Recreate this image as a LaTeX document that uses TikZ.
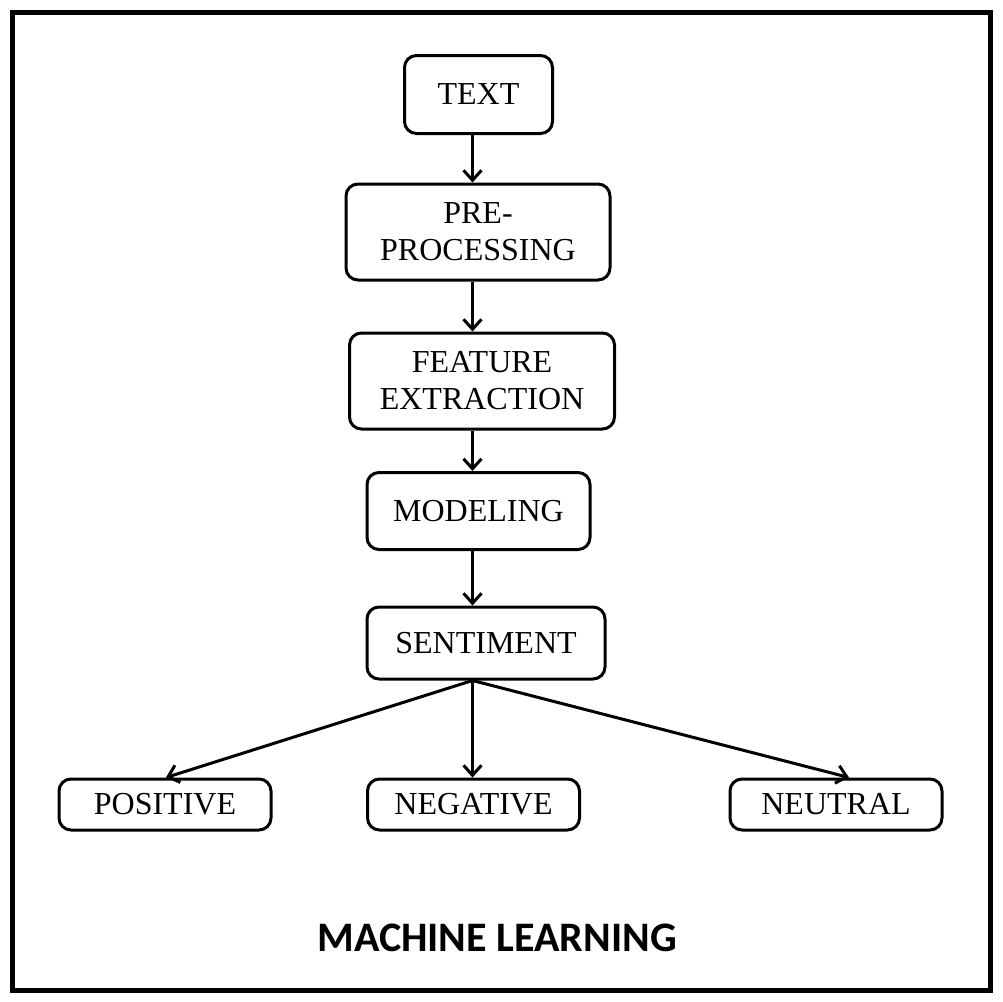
\documentclass[tikz,border=0pt]{standalone}
\usepackage{fontspec}
\setmainfont{Liberation Serif}
\newfontfamily\titlefont{Carlito}
\usetikzlibrary{arrows.meta}
\begin{document}
\begin{tikzpicture}[x=1pt,y=-1pt,
  box/.style={draw, line width=3pt, rounded corners=12pt, align=center, inner sep=0pt,
    font=\fontsize{32}{37}\selectfont},
  arr/.style={line width=3pt, -{Straight Barb[length=10pt,width=18pt]}}]
\useasboundingbox (0,0) rectangle (1003,1001);
\draw[line width=5pt] (12.5,12.5) rectangle (990.5,990.5);
\coordinate (spine) at (472.5,0);
\node[box, minimum width=148pt, minimum height=78pt] (text) at (478.5,94.5) {TEXT};
\node[box, minimum width=264pt, minimum height=96pt] (pre) at (478,232) {PRE-\\PROCESSING};
\node[box, minimum width=265pt, minimum height=96pt] (feat) at (482,381) {FEATURE\\EXTRACTION};
\node[box, minimum width=223pt, minimum height=77pt] (model) at (478.5,511) {MODELING};
\node[box, minimum width=238pt, minimum height=72pt] (sent) at (486,643) {SENTIMENT};
\node[box, minimum width=212pt, minimum height=51pt] (pos) at (165,804.5) {POSITIVE};
\node[box, minimum width=212pt, minimum height=51pt] (neg) at (473.5,804.5) {NEGATIVE};
\node[box, minimum width=212pt, minimum height=51pt] (neu) at (836,804.5) {NEUTRAL};
\node[font=\titlefont\bfseries\fontsize{42}{50}\selectfont] (title) at (497,938) {MACHINE LEARNING};
\coordinate (apex) at (sent.south -| spine);
\draw[arr] (text.south -| spine) -- (pre.north -| spine);
\draw[arr] (pre.south -| spine) -- (feat.north -| spine);
\draw[arr] (feat.south -| spine) -- (model.north -| spine);
\draw[arr] (model.south -| spine) -- (sent.north -| spine);
\coordinate (posT) at (166,0);
\coordinate (neuT) at (849,0);
\draw[arr] (apex) -- (pos.north -| posT);
\draw[arr] (apex) -- (neg.north -| spine);
\draw[arr] (apex) -- (neu.north -| neuT);
\end{tikzpicture}
\end{document}
